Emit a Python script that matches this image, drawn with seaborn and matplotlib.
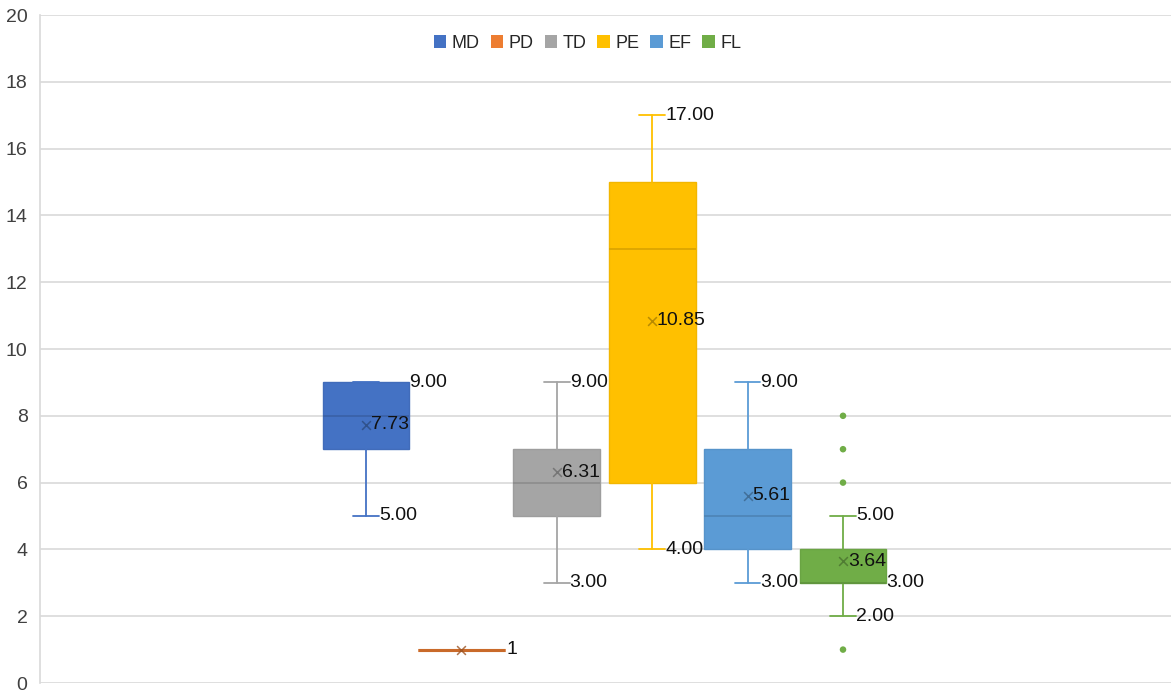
import numpy as np
import matplotlib
matplotlib.use("Agg")
import matplotlib.pyplot as plt
from matplotlib.patches import Patch
from matplotlib.colors import to_rgb
import seaborn as sns

# Summary statistics for each group
series = ["MD", "PD", "TD", "PE", "EF", "FL"]
whisker_low = [5, 1, 3, 4, 3, 2]
q1 = [7, 1, 5, 6, 4, 3]
median = [8, 1, 6, 13, 5, 3]
q3 = [9, 1, 7, 15, 7, 4]
whisker_high = [9, 1, 9, 17, 9, 5]
means = [7.73, 1, 6.31, 10.85, 5.61, 3.64]
fl_outliers = [1, 6, 7, 8]
colors = ["#4472C4", "#ED7D31", "#A5A5A5", "#FFC000", "#5B9BD5", "#70AD47"]
y_ticks = [0, 2, 4, 6, 8, 10, 12, 14, 16, 18, 20]

sns.set_theme(style="white")
plt.rcParams["font.family"] = ["Liberation Sans", "DejaVu Sans"]


def darken(c, f):
    r, g, b = to_rgb(c)
    return (r * f, g * f, b * f)


fig = plt.figure(figsize=(11.71, 6.93), dpi=100)
ax = fig.add_axes([40 / 1171, 10 / 693, 1131 / 1171, 668 / 693])

positions = np.arange(len(series))
box_w = 0.91
cap_w = 0.27

stats = []
for i, name in enumerate(series):
    stats.append(dict(label=name, whislo=whisker_low[i], q1=q1[i], med=median[i],
                      q3=q3[i], whishi=whisker_high[i], mean=means[i], fliers=[]))

ax.set_axisbelow(True)
art = ax.bxp(stats, positions=positions, widths=box_w, capwidths=cap_w,
             patch_artist=True, showmeans=False, showfliers=False,
             manage_ticks=False)

for i, c in enumerate(colors):
    edge = darken(c, 0.95)
    box = art["boxes"][i]
    box.set_facecolor(c)
    box.set_edgecolor(edge)
    box.set_linewidth(1.0 if q1[i] != q3[i] else 2.2)
    art["medians"][i].set_color(darken(c, 0.85))
    art["medians"][i].set_linewidth(1.2 if q1[i] != q3[i] else 2.2)
    for ln in art["whiskers"][2 * i:2 * i + 2] + art["caps"][2 * i:2 * i + 2]:
        ln.set_color(c)
        ln.set_linewidth(1.3)

# Mean markers
for i, c in enumerate(colors):
    sns.scatterplot(x=[positions[i]], y=[means[i]], marker="x", s=40,
                    color=darken(c, 0.65), linewidth=1.1, alpha=0.8,
                    ax=ax, legend=False, zorder=5)

# Outliers of FL
fl_i = series.index("FL")
sns.scatterplot(x=[positions[fl_i]] * len(fl_outliers), y=fl_outliers,
                color=colors[fl_i], s=22, edgecolor="none", ax=ax,
                legend=False, zorder=5)

# Value labels
lbl = dict(fontsize=14, color="#111111", va="center", ha="left", zorder=6)
for i, name in enumerate(series):
    x = positions[i]
    if whisker_low[i] == whisker_high[i]:
        ax.text(x + box_w / 2 + 0.02, means[i], f"{means[i]:g}", **lbl)
        continue
    hi_off = box_w / 2 if whisker_high[i] == q3[i] else cap_w / 2
    ax.text(x + hi_off, whisker_high[i], f"{whisker_high[i]:.2f}", **lbl)
    ax.text(x + 0.05, means[i], f"{means[i]:.2f}", **lbl)
    ax.text(x + cap_w / 2, whisker_low[i], f"{whisker_low[i]:.2f}", **lbl)
ax.text(positions[fl_i] + box_w / 2, median[fl_i], f"{median[fl_i]:.2f}", **lbl)

ax.set_xlim(-3.417, 8.438)
ax.set_ylim(0, 20)
ax.set_yticks(y_ticks)
ax.set_xticks([])
ax.yaxis.grid(True, color="#D9D9D9", linewidth=1.2)
ax.xaxis.grid(False)
for s in ["top", "right", "bottom"]:
    ax.spines[s].set_visible(False)
ax.spines["left"].set_color("#D9D9D9")
ax.spines["left"].set_linewidth(1.2)
ax.tick_params(axis="y", length=0, pad=9, labelsize=14, labelcolor="#404040")

handles = [Patch(facecolor=c, edgecolor="none", label=s) for s, c in zip(series, colors)]
fig.legend(handles=handles, loc="center", bbox_to_anchor=(0.5017, 1 - 43 / 693),
           ncol=6, frameon=False, fontsize=13, handlelength=0.7,
           handleheight=0.7, handletextpad=0.3, columnspacing=0.6,
           labelcolor="#262626")

fig.savefig("out.png", dpi=100, facecolor="white")
